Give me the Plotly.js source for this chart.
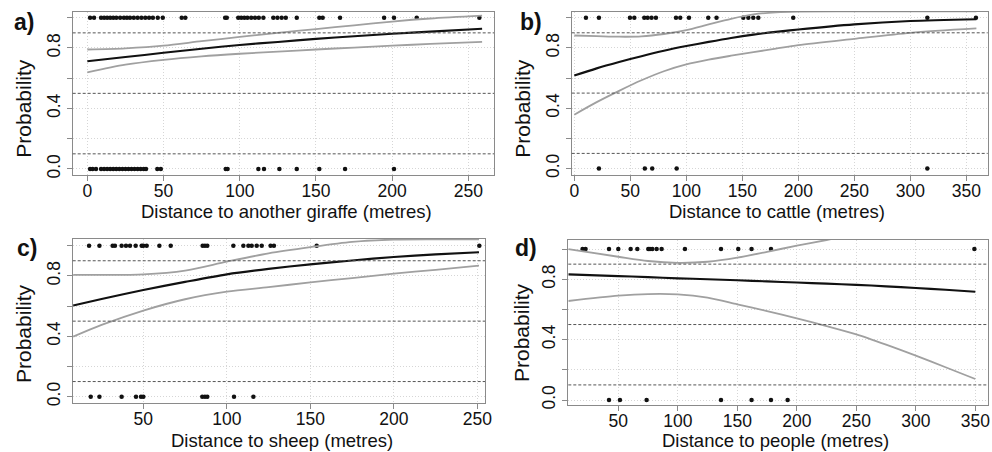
<!DOCTYPE html>
<html><head><meta charset="utf-8">
<script src="https://cdn.plot.ly/plotly-3.0.1.min.js"></script>
<style>html,body{margin:0;padding:0;background:#fff;}#chart{width:992px;height:452px;}</style>
</head><body><div id="chart"></div>
<script>
// ---- Panel a: distance to another giraffe ----
const aPresent = [1.8, 4.4, 9, 11, 13, 15, 17, 19, 21.5, 24, 26, 28, 30.5, 33, 35.5, 38, 40.5, 43, 46.2, 49.5, 61.9, 64.3, 90.4, 91.5, 99, 101, 103, 105, 107.5, 110, 112.5, 115.5, 122, 124.7, 127.5, 130.2, 137.4, 152.2, 154.4, 165.8, 194.7, 201.2, 216.1, 257.2];
const aAbsent = [1.8, 3.5, 5.7, 9, 11, 13, 15, 17, 19, 21, 23, 25, 27, 29, 31, 33, 35, 37, 38.5, 45.9, 48.2, 90.8, 92, 112.2, 115.9, 126, 137.4, 152.2, 169.1, 201.2];
const aCurveX = [0, 25, 50, 75, 100, 125, 150, 175, 200, 225, 259];
const aFit   = [0.712, 0.74, 0.768, 0.795, 0.82, 0.84, 0.86, 0.878, 0.894, 0.908, 0.927];
const aUpper = [0.79, 0.798, 0.815, 0.845, 0.873, 0.9, 0.925, 0.95, 0.975, 0.995, 1.014];
const aLower = [0.639, 0.69, 0.722, 0.745, 0.762, 0.776, 0.79, 0.803, 0.815, 0.827, 0.841];

// ---- Panel b: distance to cattle ----
const bPresent = [10.4, 22, 49.7, 53.6, 62.5, 65.5, 69, 72.9, 90.8, 94.6, 102.4, 119.6, 127, 150.9, 155.4, 159.8, 164.3, 195.5, 315.2, 358.6];
const bAbsent = [22, 63, 69.6, 91.4, 315.2];
const bCurveX = [0, 20, 40, 60, 80, 100, 120, 140, 160, 180, 200, 250, 300, 359];
const bFit   = [0.616, 0.664, 0.706, 0.745, 0.781, 0.812, 0.84, 0.866, 0.888, 0.906, 0.922, 0.956, 0.978, 0.99];
const bUpper = [0.882, 0.878, 0.874, 0.876, 0.892, 0.918, 0.956, 0.993, 1.022, 1.036, 1.041, 1.042, 1.042, 1.042];
const bLower = [0.357, 0.44, 0.515, 0.585, 0.645, 0.69, 0.722, 0.748, 0.772, 0.795, 0.818, 0.86, 0.9, 0.929];

// ---- Panel c: distance to sheep ----
const cPresent = [17.5, 23.7, 31.6, 33, 37, 39.6, 42, 45.4, 49, 50, 52, 59.6, 66.4, 85.5, 86.9, 88.3, 103.9, 109.9, 112.9, 114.9, 117.9, 120.9, 126.2, 128.2, 153.8, 251.2];
const cAbsent = [18.5, 23.7, 37, 45.6, 48.6, 50, 85.3, 86.9, 88.3, 104.3, 115.9];
const cCurveX = [8, 25, 50, 75, 100, 125, 150, 175, 200, 225, 251];
const cFit   = [0.603, 0.646, 0.706, 0.76, 0.81, 0.846, 0.876, 0.902, 0.925, 0.942, 0.956];
const cUpper = [0.806, 0.806, 0.81, 0.835, 0.894, 0.949, 0.99, 1.025, 1.04, 1.042, 1.042];
const cLower = [0.397, 0.475, 0.57, 0.645, 0.695, 0.725, 0.757, 0.785, 0.815, 0.84, 0.868];

// ---- Panel d: distance to people ----
const dPresent = [20, 22.5, 42.2, 50, 60.4, 66, 75.2, 76.6, 78.6, 82.2, 86.4, 106, 136.3, 150.8, 162, 178.3, 349.2];
const dAbsent = [42.2, 51.4, 73.8, 136.3, 162, 178.3, 192.3];
const dCurveX = [8, 50, 75, 100, 125, 150, 175, 200, 225, 250, 275, 300, 325, 350];
const dFit   = [0.832, 0.821, 0.814, 0.806, 0.8, 0.793, 0.786, 0.778, 0.771, 0.763, 0.753, 0.742, 0.73, 0.717];
const dUpper = [1.0, 0.949, 0.921, 0.909, 0.916, 0.943, 0.982, 1.022, 1.06, 1.1, 1.14, 1.18, 1.22, 1.26];
const dLower = [0.656, 0.691, 0.702, 0.7, 0.678, 0.634, 0.589, 0.541, 0.49, 0.435, 0.367, 0.294, 0.217, 0.139];

// ---- labels ----
const panelLetters = ['a)', 'b)', 'c)', 'd)'];
const xTitles = ['Distance to another giraffe (metres)', 'Distance to cattle (metres)', 'Distance to sheep (metres)', 'Distance to people (metres)'];
const yTitle = 'Probability';
const yTickVals = [0, 0.2, 0.4, 0.6, 0.8, 1.0];
const yTickText = ['0.0', '', '0.4', '', '0.8', ''];
const refLevels = [0.1, 0.5, 0.9];
const xTickSets = [[0, 50, 100, 150, 200, 250], [0, 50, 100, 150, 200, 250, 300, 350], [50, 100, 150, 200, 250], [50, 100, 150, 200, 250, 300, 350]];

const W = 992, H = 452;
const px = v => v / W, py = v => 1 - v / H;

// plot boxes in pixels: [left, right, top, bottom]
const boxes = [[72.7, 494, 11.7, 175], [571.7, 987.7, 11.7, 174.5], [72.7, 485, 239, 403.3], [568.3, 987.7, 240, 405]];
const xRanges = [[-9.6, 266.8], [-2.3, 369.1], [7.7, 254.6], [8, 360.4]];
const yRanges = [[-0.04, 1.04], [-0.04, 1.04], [-0.044, 1.044], [-0.033, 1.06]];

const panels = [
  [aPresent, aAbsent, aCurveX, aFit, aUpper, aLower],
  [bPresent, bAbsent, bCurveX, bFit, bUpper, bLower],
  [cPresent, cAbsent, cCurveX, cFit, cUpper, cLower],
  [dPresent, dAbsent, dCurveX, dFit, dUpper, dLower]
];

const FONT = 'Liberation Sans, Arial, sans-serif';
const traces = [];
const layout = {
  width: W, height: H, margin: {l: 0, r: 0, t: 0, b: 0},
  paper_bgcolor: '#fff', plot_bgcolor: '#fff', showlegend: false,
  font: {family: FONT, color: '#111'},
  shapes: [], annotations: []
};

panels.forEach((p, i) => {
  const n = i + 1;
  const xa = n === 1 ? 'x' : 'x' + n, ya = n === 1 ? 'y' : 'y' + n;
  const [present, absent, cx, fit, up, lo] = p;
  traces.push({x: present, y: present.map(() => 1), xaxis: xa, yaxis: ya, type: 'scatter', mode: 'markers', marker: {color: '#111', size: 4.5}});
  traces.push({x: absent, y: absent.map(() => 0), xaxis: xa, yaxis: ya, type: 'scatter', mode: 'markers', marker: {color: '#111', size: 4.5}});
  traces.push({x: cx, y: up, xaxis: xa, yaxis: ya, type: 'scatter', mode: 'lines', line: {color: '#a0a0a0', width: 1.8, shape: 'spline', smoothing: 0.8}});
  traces.push({x: cx, y: lo, xaxis: xa, yaxis: ya, type: 'scatter', mode: 'lines', line: {color: '#a0a0a0', width: 1.8, shape: 'spline', smoothing: 0.8}});
  traces.push({x: cx, y: fit, xaxis: xa, yaxis: ya, type: 'scatter', mode: 'lines', line: {color: '#111', width: 2.1, shape: 'spline', smoothing: 0.8}});

  const b = boxes[i];
  const axCommon = {
    showline: true, mirror: true, linecolor: '#8a8a8a', linewidth: 1,
    ticks: 'outside', ticklen: 5, tickcolor: '#8a8a8a', tickwidth: 1,
    showgrid: true, gridcolor: '#d6d6d6', griddash: '1px,2px', gridwidth: 1,
    zeroline: false, tickfont: {family: FONT, size: 17.5, color: '#111'}
  };
  layout[n === 1 ? 'xaxis' : 'xaxis' + n] = Object.assign({}, axCommon, {
    domain: [px(b[0]), px(b[1])], range: xRanges[i], anchor: ya,
    tickmode: 'array', tickvals: xTickSets[i], ticktext: xTickSets[i].map(String),
    ticklabelstandoff: -5
  });
  layout[n === 1 ? 'yaxis' : 'yaxis' + n] = Object.assign({}, axCommon, {
    domain: [py(b[3]), py(b[2])], range: yRanges[i], anchor: xa,
    tickmode: 'array', tickvals: yTickVals, ticktext: yTickText, tickangle: -90
  });
  refLevels.forEach(v => layout.shapes.push({
    type: 'line', xref: xa + ' domain', yref: ya, x0: 0, x1: 1, y0: v, y1: v,
    line: {color: '#555', width: 1, dash: '3px,2px'}
  }));
});

// text placement (pixels)
const letterPos = [[12, 22], [517.7, 22], [15, 248], [513, 248]];
const yTitlePos = [[22.7, 108], [521.7, 108], [23, 334], [521, 333]];
const xTitlePos = [[286, 211.5], [776.7, 211.5], [281.7, 440.5], [775.7, 440.5]];
for (let i = 0; i < 4; i++) {
  layout.annotations.push({text: '<b>' + panelLetters[i] + '</b>', xref: 'paper', yref: 'paper', x: px(letterPos[i][0]), y: py(letterPos[i][1]), xanchor: 'left', yanchor: 'middle', showarrow: false, font: {family: FONT, size: 23, color: '#111'}});
  layout.annotations.push({text: yTitle, xref: 'paper', yref: 'paper', x: px(yTitlePos[i][0]), y: py(yTitlePos[i][1]), xanchor: 'center', yanchor: 'middle', textangle: -90, showarrow: false, font: {family: FONT, size: 21, color: '#111'}});
  layout.annotations.push({text: xTitles[i], xref: 'paper', yref: 'paper', x: px(xTitlePos[i][0]), y: py(xTitlePos[i][1]), xanchor: 'center', yanchor: 'middle', showarrow: false, font: {family: FONT, size: 18.5, color: '#111'}});
}

Plotly.newPlot('chart', traces, layout, {staticPlot: true, displayModeBar: false});
</script></body></html>
